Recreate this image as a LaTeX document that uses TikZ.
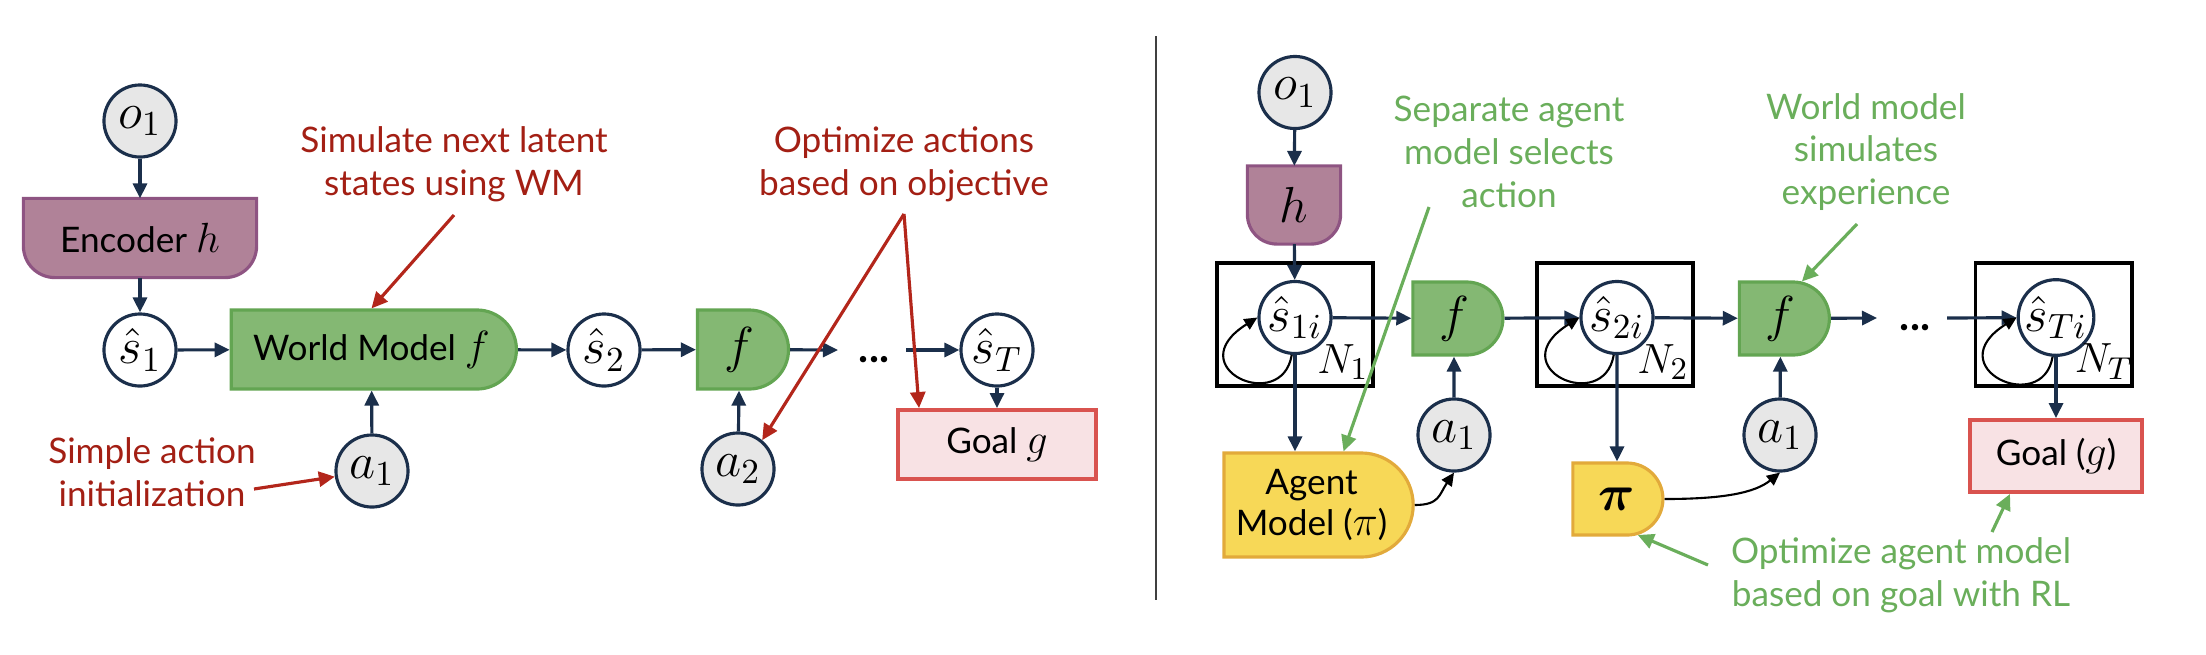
\documentclass[tikz,border=0pt]{standalone}
\usepackage{amsmath}
\usepackage{fontspec}
\setmainfont{Lato}
\usepackage{tikz}
\usetikzlibrary{arrows.meta,shapes.misc,backgrounds,calc,positioning}

\definecolor{navy}{HTML}{1B2F4B}
\definecolor{obsgrey}{HTML}{E7E7E7}
\definecolor{encfill}{HTML}{B08298}
\definecolor{encdraw}{HTML}{8E5482}
\definecolor{wmfill}{HTML}{84B873}
\definecolor{wmdraw}{HTML}{63A552}
\definecolor{agfill}{HTML}{F7D857}
\definecolor{agdraw}{HTML}{E2AA3B}
\definecolor{goalfill}{HTML}{F8E2E4}
\definecolor{goaldraw}{HTML}{D9534F}
\definecolor{notered}{HTML}{A31F14}
\definecolor{redline}{HTML}{B3261B}
\definecolor{notegreen}{HTML}{6AAE5B}
\definecolor{sepgrey}{HTML}{404040}

\begin{document}
\begin{tikzpicture}[x=0.01cm,y=-0.01cm,>={Triangle[length=1.5mm,width=1.4mm]},line width=0.9pt]
	\tikzstyle{var}=[circle, draw=navy, line width=0.9pt, minimum size=7.2mm, inner sep=0pt, font=\fontsize{14}{16}\selectfont]
	\tikzstyle{obs}=[var, fill=obsgrey]
	\tikzstyle{latent}=[var, fill=white]
	\tikzstyle{dshape}=[rounded rectangle, rounded rectangle left arc=none, line width=0.9pt, inner sep=0pt]
	\tikzstyle{model}=[dshape, draw=wmdraw, fill=wmfill]
	\tikzstyle{policy}=[dshape, draw=agdraw, fill=agfill]
	\tikzstyle{cup}=[draw=encdraw, fill=encfill, line width=0.9pt]
	\tikzstyle{goal}=[rectangle, draw=goaldraw, fill=goalfill, line width=1.1pt, inner sep=0pt, font=\fontsize{10}{12}\selectfont]
	\tikzstyle{plate}=[rectangle, draw=black, line width=1.1pt, minimum width=1.56cm, minimum height=1.23cm]
	\tikzstyle{boxtext}=[font=\fontsize{10}{12}\selectfont]
	\tikzstyle{bigmath}=[font=\fontsize{15}{17}\selectfont]
	\tikzstyle{dots}=[anchor=base, font=\fontsize{12}{14}\selectfont\bfseries]
	\tikzstyle{flow}=[->, draw=navy, line width=0.9pt]
	\tikzstyle{thinarrow}=[->, black, line width=0.6pt, >={Triangle[length=1.3mm,width=1.2mm]}]
	\tikzstyle{rednote}=[text=notered, align=center, font=\fontsize{10}{12.2}\selectfont]
	\tikzstyle{greennote}=[text=notegreen, align=center, font=\fontsize{10}{12.2}\selectfont]
	\tikzstyle{redarrow}=[->, draw=redline, line width=0.9pt, >={Triangle[length=1.6mm,width=1.5mm]}]
	\tikzstyle{greenarrow}=[->, draw=notegreen, line width=0.9pt, >={Triangle[length=1.6mm,width=1.5mm]}]

	\useasboundingbox (0,0) rectangle (2206,654);

	% left: action optimisation through the world model
	\node[obs] (o1L) at (140,121) {$o_1$};
	\node[boxtext, minimum width=2.3cm, minimum height=0.76cm, inner sep=0pt] (encL) at (140,238) {Encoder {\large$h$}};
	\begin{scope}[on background layer]
		\draw[cup] (encL.north west) -- (encL.north east) -- ($(encL.south east)+(0,-32)$)
			.. controls +(0,18) and +(18,0) .. ($(encL.south east)+(-32,0)$)
			-- ($(encL.south west)+(32,0)$)
			.. controls +(-18,0) and +(0,18) .. ($(encL.south west)+(0,-32)$) -- cycle;
	\end{scope}
	\node[latent] (s1L) at (140,350) {$\hat{s}_1$};
	\node[model, boxtext, minimum width=2.85cm, minimum height=0.79cm] (wm) at (371.5,349.5) {World Model {\large$f$}};
	\node[latent] (s2L) at (604,350) {$\hat{s}_2$};
	\node[model, font=\fontsize{14}{16}\selectfont, minimum width=0.91cm, minimum height=0.79cm] (fL) at (739.5,349.5) {$f$};
	\node[dots] (dotsL) at (874,362) {...};
	\coordinate (dotsLin) at (838,350);
	\coordinate (dotsLout) at (906,350);
	\node[latent] (sTL) at (997,350) {$\hat{s}_T$};
	\node[obs] (a1L) at (372,471) {$a_1$};
	\node[obs] (a2L) at (738,469) {$a_2$};
	\node[goal, minimum width=1.98cm, minimum height=0.69cm] (goalL) at (997,444.5) {Goal {\large$g$}};

	\draw[flow] (o1L) -- (encL);
	\draw[flow] (encL) -- (s1L);
	\draw[flow] (s1L) -- (wm);
	\draw[flow] (wm) -- (s2L);
	\draw[flow] (s2L) -- (fL);
	\draw[flow] (fL) -- (dotsLin);
	\draw[flow] (dotsLout) -- (sTL);
	\draw[flow] (a1L) -- (wm);
	\draw[flow] (a2L) -- (fL);
	\draw[flow] (sTL) -- (goalL);

	\node[rednote] (simnote) at (454,164) {Simulate next latent\\states using WM};
	\node[rednote] (optnote) at (904,164) {Optimize actions\\based on objective};
	\node[rednote] (initnote) at (152,472) {Simple action\\initialization};
	\coordinate (simtail) at (454,215);
	\coordinate (opttail) at (904,214);
	\coordinate (inittail) at (254,489);
	\draw[redarrow] (simtail) -- (wm.north);
	\draw[redarrow] (opttail) -- (a2L.50);
	\draw[redarrow] (opttail) -- ([xshift=0.23cm]goalL.north west);
	\draw[redarrow] (inittail) -- (a1L);

	\draw[sepgrey, line width=0.8pt] (1156,36) -- (1156,600);

	% right: separate agent model trained in the world model
	\node[obs] (o1R) at (1295,92.5) {$o_1$};
	\node[bigmath, minimum width=0.9cm, minimum height=0.75cm, inner sep=0pt] (hR) at (1294,205) {$h$};
	\begin{scope}[on background layer]
		\draw[cup] (hR.north west) -- (hR.north east) -- ($(hR.south east)+(0,-30)$)
			.. controls +(0,17) and +(17,0) .. ($(hR.south east)+(-30,0)$)
			-- ($(hR.south west)+(30,0)$)
			.. controls +(-17,0) and +(0,17) .. ($(hR.south west)+(0,-30)$) -- cycle;
	\end{scope}
	\node[plate] (plate1) at (1295,324.5) {};
	\node[plate] (plate2) at (1615,324.5) {};
	\node[plate] (plateT) at (2053.5,324.5) {};
	\node[latent] (s1i) at (1295,317.5) {$\hat{s}_{1i}$};
	\node[latent] (s2i) at (1617,317.5) {$\hat{s}_{2i}$};
	\node[latent] (sTi) at (2056,317.5) {$\hat{s}_{Ti}$};
	\node[font=\fontsize{13}{15}\selectfont] (N1) at (1343,362) {$N_1$};
	\node[font=\fontsize{13}{15}\selectfont] (N2) at (1663,362) {$N_2$};
	\node[font=\fontsize{13}{15}\selectfont] (NT) at (2104,362) {$N_T$};
	\node[model, bigmath, minimum width=0.9cm, minimum height=0.73cm] (fR1) at (1454,318.5) {$f$};
	\node[model, bigmath, minimum width=0.9cm, minimum height=0.73cm] (fR2) at (1780.5,318.5) {$f$};
	\node[obs] (a1R1) at (1454,435) {$a_1$};
	\node[obs] (a1R2) at (1780,435) {$a_1$};
	\node[policy, align=center, font=\fontsize{10}{11.7}\selectfont, minimum width=1.89cm, minimum height=1.04cm] (agent) at (1311.5,505) {Agent\\Model ({\large$\pi$})};
	\node[policy, bigmath, minimum width=0.9cm, minimum height=0.72cm] (piR) at (1617,499) {$\boldsymbol{\pi}$};
	\node[dots] (dotsR) at (1915,330) {...};
	\coordinate (dotsRin) at (1877,318);
	\coordinate (dotsRout) at (1947,318);
	\node[goal, minimum width=1.72cm, minimum height=0.72cm] (goalR) at (2056,456) {Goal ({\large$g$})};

	\draw[flow] (o1R) -- (hR);
	\draw[flow] (hR) -- (s1i);
	\draw[flow] (s1i) -- (fR1);
	\draw[flow] (fR1) -- (s2i);
	\draw[flow] (s2i) -- (fR2);
	\draw[flow] (fR2) -- (dotsRin);
	\draw[flow] (dotsRout) -- (sTi);
	\draw[flow] (s1i) -- (s1i |- agent.north);
	\draw[flow] (s2i) -- (piR);
	\draw[flow] (a1R1) -- (fR1);
	\draw[flow] (a1R2) -- (fR2);
	\draw[flow] (sTi) -- (goalR);
	\foreach \s in {s1i,s2i,sTi}
		\draw[thinarrow] (\s.-95) .. controls +(-10,60) and +(-80,50) .. (\s.west);
	\draw[thinarrow] (agent.east) .. controls +(25,0) and +(-15,22) .. (a1R1.south);
	\draw[thinarrow] (piR.east) .. controls +(60,0) and +(-25,20) .. (a1R2.south);

	\node[greennote] (sepnote) at (1509,152) {Separate agent\\model selects\\action};
	\node[greennote] (expnote) at (1866,152) {World model\\simulates\\experience};
	\node[greennote] (rlnote) at (1901,575) {Optimize agent model\\based on goal with RL};
	\coordinate (septail) at (1429,207);
	\coordinate (exptail) at (1857,224);
	\coordinate (rltailA) at (1992,532);
	\coordinate (rltailB) at (1708,565);
	\draw[greenarrow] (septail) -- ([xshift=0.32cm]agent.north);
	\draw[greenarrow] (exptail) -- (fR2.60);
	\draw[greenarrow] (rltailA) -- ([xshift=-0.46cm]goalR.south);
	\draw[greenarrow] (rltailB) -- (piR.-60);
\end{tikzpicture}
\end{document}
